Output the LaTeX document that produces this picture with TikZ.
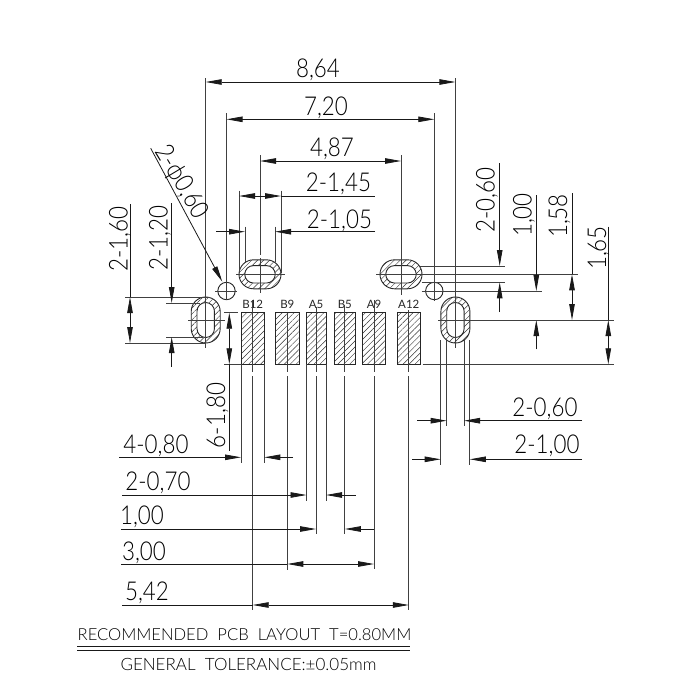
\documentclass[tikz,border=0pt]{standalone}
\usepackage{fontspec}
\setmainfont[FakeStretch=0.86]{Lato Light}
\newfontfamily\notefont{Lato Light}
\newfontfamily\labelfont{Lato}
\usetikzlibrary{arrows.meta,patterns.meta,positioning}
\begin{document}
\begin{tikzpicture}%
    [x=1pt,y=-1pt,
    >={Stealth[length=16pt,width=5.5pt,inset=0pt]},
    extline/.style={draw=black!75, line width=.8pt},
    dimline/.style={draw=black!90, line width=.8pt},
    dimtext/.style={font=\fontsize{26}{26}\selectfont, text=black, inner sep=0pt, text height=19pt, text depth=0pt},
    padbox/.style={draw=black!85, line width=.8pt, inner sep=0pt, minimum height=51.6pt,
      pattern={Lines[angle=45,distance=4.2pt,line width=.45pt]}, pattern color=black!80},
    padlabel/.style={font=\labelfont\fontsize{11.5}{12}\selectfont, text=black!85, inner sep=0pt, text height=9pt, text depth=0pt},
    notetext/.style={font=\notefont\fontsize{#1}{17}\selectfont, text=black, inner sep=0pt, text height=12pt, text depth=0pt},
    slotouter/.style={draw=black!85, line width=.9pt, inner sep=0pt,
      pattern={Lines[angle=45,distance=4.2pt,line width=.45pt]}, pattern color=black!80},
    slotinner/.style={draw=black!85, line width=.9pt, fill=white, inner sep=0pt},
    hslot/.style={minimum width=#1, minimum height=29pt, rounded corners=14.5pt},
    vslot/.style={minimum width=29pt, minimum height=#1, rounded corners=14.5pt},
    hcore/.style={minimum width=30.5pt, minimum height=17.4pt, rounded corners=8.7pt},
    vcore/.style={minimum width=17.4pt, minimum height=35pt, rounded corners=8.7pt},
    drill/.style={circle, draw=black!85, line width=.9pt, inner sep=0pt, minimum size=17.4pt},
    ]
    \useasboundingbox (0,0) rectangle (680,696);

    % slots and holes
    \node[slotouter, hslot=42pt] (slottl) at (260,274.3) {};
    \node[slotinner, hcore]      (coretl) at (260,274.3) {};
    \node[slotouter, hslot=42pt] (slottr) at (401,274.3) {};
    \node[slotinner, hcore]      (coretr) at (401,274.3) {};
    \node[slotouter, vslot=46pt] (slotl)  at (205.7,320) {};
    \node[slotinner, vcore]      (corel)  at (205.7,320) {};
    \node[slotouter, vslot=46pt] (slotr)  at (455.4,320) {};
    \node[slotinner, vcore]      (corer)  at (455.4,320) {};
    \node[drill] (holel) at (226.5,291) {};
    \node[drill] (holer) at (434.3,291) {};

    % pads
    \foreach \pad/\txt/\px/\pw/\ptop/\pend in {b12/B12/252.7/23.3/300/610, b9/B9/287.3/23.3/313/570,
        a5/A5/316/20/307/534, b5/B5/344.8/21/305/534, a9/A9/374/23.4/300/569, a12/A12/408.8/23/310/610}
    {
      \node[padbox, minimum width=\pw pt] (\pad) at (\px,338.5) {};
      \node[padlabel] (\pad lbl) at (\px,304) {\txt};
      \draw[extline] (\pad |- 0,\ptop) -- (\pad |- 0,372) (\pad |- 0,376) -- (\pad |- 0,\pend);
    }

    % center lines
    \draw[extline] (slotl |- 0,78)  -- (slotl |- 0,348) (188,320) -- (225,320);
    \draw[extline] (slotr |- 0,78)  -- (slotr |- 0,348);
    \draw[extline] (holel |- 0,113) -- (holel |- 0,300) (215,291) -- (237,291);
    \draw[extline] (holer |- 0,113) -- (holer |- 0,301) (421.7,291) -- (542,291);
    \draw[extline] (slottl |- 0,155) -- (slottl |- 0,255) (slottl |- 0,258) -- (slottl |- 0,293) (236,274.3) -- (284.7,274.3);
    \draw[extline] (slottr |- 0,155) -- (slottr |- 0,295) (376,274.3) -- (578,274.3);

    % top
    \draw[dimline,<->] (slotl |- 0,82)   -- (slotr |- 0,82);
    \node[dimtext] (dimw) at (318,68) {8,64};
    \draw[dimline,<->] (holel |- 0,119.3) -- (holer |- 0,119.3);
    \node[dimtext] (dimh) at (326,106) {7,20};
    \draw[dimline,<->] (slottl |- 0,161) -- (slottr |- 0,161);
    \node[dimtext] (dimp) at (332,147) {4,87};

    % slot length
    \draw[extline] (239,190.7) -- (239,273) (281,190.7) -- (281,273);
    \draw[dimline,<->] (239,196) -- (281,196);
    \draw[dimline] (281,196) -- (375,196);
    \node[dimtext] (dimsl) at (338.5,182) {2-1,45};
    \draw[extline] (245,226.7) -- (245,262) (275,226.7) -- (275,262);
    \draw[dimline,->] (216,231.7) -- (245,231.7);
    \draw[dimline,->] (375,231.7) -- (275,231.7);
    \node[dimtext] (dimcl) at (339.5,218.5) {2-1,05};

    % leader
    \draw[dimline,->] (150.7,148.3) -- (222.3,281.7);
    \node[dimtext, rotate=-59] (dimd) at (183,181) {2-ϕ0,60};

    % left
    \draw[extline] (125,297) -- (210,297) (125,343) -- (205,343);
    \draw[dimline,<->] (130,297) -- (130,343);
    \draw[dimline] (130,204) -- (130,297);
    \node[dimtext, rotate=90] (dimvs) at (118,239) {2-1,60};
    \draw[extline] (166,303) -- (200,303) (166,337) -- (203,337);
    \draw[dimline,->] (171.7,203) -- (171.7,303);
    \draw[dimline,->] (171.7,366.7) -- (171.7,337);
    \node[dimtext, rotate=90] (dimvc) at (158,238) {2-1,20};

    % right
    \draw[extline] (420,266) -- (505,266) (421.7,282.3) -- (505,282.3);
    \draw[dimline,->] (499.7,163.3) -- (499.7,266);
    \draw[dimline,->] (499.7,312) -- (499.7,282.3);
    \node[dimtext, rotate=90] (dimhc) at (485,200) {2-0,60};
    \draw[dimline,->] (536.3,195) -- (536.3,291);
    \draw[dimline,->] (536.3,349.3) -- (536.3,320);
    \node[dimtext, rotate=90] (dimya) at (522,215) {1,00};
    \draw[extline] (438,320) -- (614,320) (422.7,364.3) -- (614,364.3);
    \draw[dimline] (572,193) -- (572,274.3);
    \draw[dimline,<->] (572,274.3) -- (572,320);
    \node[dimtext, rotate=90] (dimyb) at (557.7,216) {1,58};
    \draw[dimline] (608.3,226.7) -- (608.3,320);
    \draw[dimline,<->] (608.3,320) -- (608.3,364.3);
    \node[dimtext, rotate=90] (dimyc) at (596.7,248) {1,65};

    % pad height
    \draw[extline] (224,312.7) -- (238,312.7) (224,364.3) -- (241,364.3);
    \draw[dimline,<->] (229.3,312.7) -- (229.3,364.3);
    \draw[dimline] (229.3,364.3) -- (229.3,450.7);
    \node[dimtext, rotate=90] (dimph) at (215.7,415.5) {6-1,80};

    % below pads
    \draw[extline] (241,364) -- (241,463) (264.3,364) -- (264.3,463);
    \draw[dimline,->] (119,457.3) -- (241,457.3);
    \draw[dimline,->] (293,457.3) -- (264.3,457.3);
    \node[dimtext] (dimpa) at (156,443.5) {4-0,80};
    \draw[extline] (306.5,364) -- (306.5,500.7) (326,364) -- (326,500.7);
    \draw[dimline,->] (122,495) -- (306.5,495);
    \draw[dimline,->] (355.7,495) -- (326,495);
    \node[dimtext] (dimpb) at (158,481) {2-0,70};
    \draw[dimline,->] (121,529) -- (a5 |- 0,529);
    \draw[dimline,->] (a9 |- 0,529) -- (b5 |- 0,529);
    \node[dimtext] (dimpc) at (142,515) {1,00};
    \draw[dimline] (121,564) -- (b9 |- 0,564);
    \draw[dimline,<->] (b9 |- 0,564) -- (a9 |- 0,564);
    \node[dimtext] (dimpd) at (144,551) {3,00};
    \draw[dimline] (122,605) -- (b12 |- 0,605);
    \draw[dimline,<->] (b12 |- 0,605) -- (a12 |- 0,605);
    \node[dimtext] (dimpe) at (147,591) {5,42};

    % right slot width
    \draw[extline] (440.7,340) -- (440.7,465) (469.8,340) -- (469.8,465);
    \draw[extline] (446.7,340) -- (446.7,426) (464,340) -- (464,426);
    \draw[dimline,->] (417.3,420.7) -- (446.7,420.7);
    \draw[dimline,->] (582,420.7) -- (464,420.7);
    \node[dimtext] (dimrc) at (545,407) {2-0,60};
    \draw[dimline,->] (412.3,459.3) -- (440.7,459.3);
    \draw[dimline,->] (582,459.3) -- (469.8,459.3);
    \node[dimtext] (dimrs) at (547,444) {2-1,00};

    % notes
    \node[notetext=16.6] (note) at (244.5,634) {RECOMMENDED\ \ PCB\ \ LAYOUT\ \ T=0.80MM};
    \draw[dimline] (77,646.7) -- (410,646.7) (77,650.7) -- (410,650.7);
    \node[notetext=17] (tol) at (248.5,664) {GENERAL\ \ TOLERANCE:±0.05mm};
  \end{tikzpicture}
\end{document}
